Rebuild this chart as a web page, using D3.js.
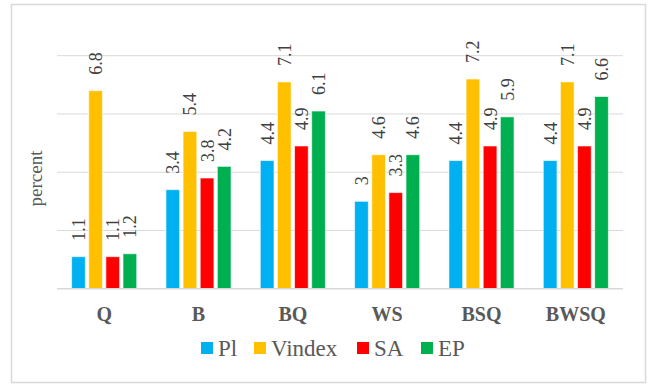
<!DOCTYPE html>
<html>
<head>
<meta charset="utf-8">
<script src="https://cdn.jsdelivr.net/npm/d3@7"></script>
<style>
  html, body { margin: 0; padding: 0; background: #fff; }
  #chart text { font-family: Tinos, "Liberation Serif", "Nimbus Roman", FreeSerif, serif; }
</style>
</head>
<body>
<svg id="chart" width="653" height="384"></svg>
<script>
// Method groups along the x axis
const categories = ["Q", "B", "BQ", "WS", "BSQ", "BWSQ"];
// Series names and colours
const seriesNames = ["Pl", "Vindex", "SA", "EP"];
const seriesColors = ["#00B0F0", "#FFC000", "#FF0000", "#00B050"];
// Percent values per series, one per category
const plValues = [1.1, 3.4, 4.4, 3, 4.4, 4.4];
const vindexValues = [6.8, 5.4, 7.1, 4.6, 7.2, 7.1];
const saValues = [1.1, 3.8, 4.9, 3.3, 4.9, 4.9];
const epValues = [1.2, 4.2, 6.1, 4.6, 5.9, 6.6];
// Horizontal gridline positions
const yTicks = [0, 2, 4, 6, 8];

const series = [plValues, vindexValues, saValues, epValues];

const svg = d3.select("#chart");

// Chart frame
svg.append("rect")
  .attr("x", 11.5).attr("y", 4.5)
  .attr("width", 634).attr("height", 378)
  .attr("fill", "#fff")
  .attr("stroke", "#d9d9d9")
  .attr("stroke-width", 1.5);

// Legend
const legendX = [201, 254, 357, 421];
const legend = svg.append("g");
seriesNames.forEach((s, i) => {
  legend.append("rect")
    .attr("x", legendX[i]).attr("y", 342)
    .attr("width", 12).attr("height", 12)
    .attr("fill", seriesColors[i]);
  legend.append("text")
    .attr("x", legendX[i] + 17).attr("y", 356)
    .style("font-size", "23px")
    .attr("fill", "#595959")
    .text(s);
});

const plot = { left: 57, right: 623, top: 55.7, bottom: 288.7 };

const y = d3.scaleLinear().domain([0, 8]).range([plot.bottom, plot.top]);
const x0 = d3.scaleBand().domain(categories).range([plot.left, plot.right])
  .paddingInner(0.31).paddingOuter(0.155);
const x1 = d3.scaleBand().domain(seriesNames).range([0, x0.bandwidth()])
  .paddingInner(0.2).paddingOuter(0);

// Category labels placed from the band scale
svg.append("g").selectAll("text")
  .data(categories)
  .join("text")
  .attr("x", c => x0(c) + x0.bandwidth() / 2)
  .attr("y", plot.bottom + 32)
  .attr("text-anchor", "middle")
  .style("font-size", "20px")
  .style("font-weight", "bold")
  .attr("fill", "#595959")
  .text(c => c);

// Gridlines
svg.append("g").selectAll("line")
  .data(yTicks.filter(t => t > 0))
  .join("line")
  .attr("x1", plot.left).attr("x2", plot.right)
  .attr("y1", d => y(d)).attr("y2", d => y(d))
  .attr("stroke", "#d9d9d9").attr("stroke-width", 1);

// Bars and value labels
const groups = svg.append("g").selectAll("g")
  .data(categories)
  .join("g")
  .attr("transform", c => `translate(${x0(c)},0)`);

groups.each(function (c, ci) {
  const g = d3.select(this);
  seriesNames.forEach((s, si) => {
    const v = series[si][ci];
    g.append("rect")
      .attr("x", x1(s))
      .attr("y", y(v))
      .attr("width", x1.bandwidth())
      .attr("height", y(0) - y(v))
      .attr("fill", seriesColors[si])
      .attr("stroke", "#ffffff")
      .attr("stroke-opacity", 0.6)
      .attr("stroke-width", 1);
    const cx = x1(s) + x1.bandwidth() / 2;
    g.append("text")
      .attr("transform", `translate(${cx + 6.5},${y(v) - 16}) rotate(-90)`)
      .attr("text-anchor", "start")
      .style("font-size", "18px")
      .attr("fill", "#404040")
      .text(String(v));
  });
});

// Baseline
svg.append("line")
  .attr("x1", plot.left).attr("x2", plot.right)
  .attr("y1", y(0)).attr("y2", y(0))
  .attr("stroke", "#d9d9d9").attr("stroke-width", 1.5);

// Y axis title
svg.append("text")
  .attr("transform", `translate(42,178.5) rotate(-90)`)
  .attr("text-anchor", "middle")
  .style("font-size", "19px")
  .attr("fill", "#595959")
  .text("percent");
</script>
</body>
</html>
